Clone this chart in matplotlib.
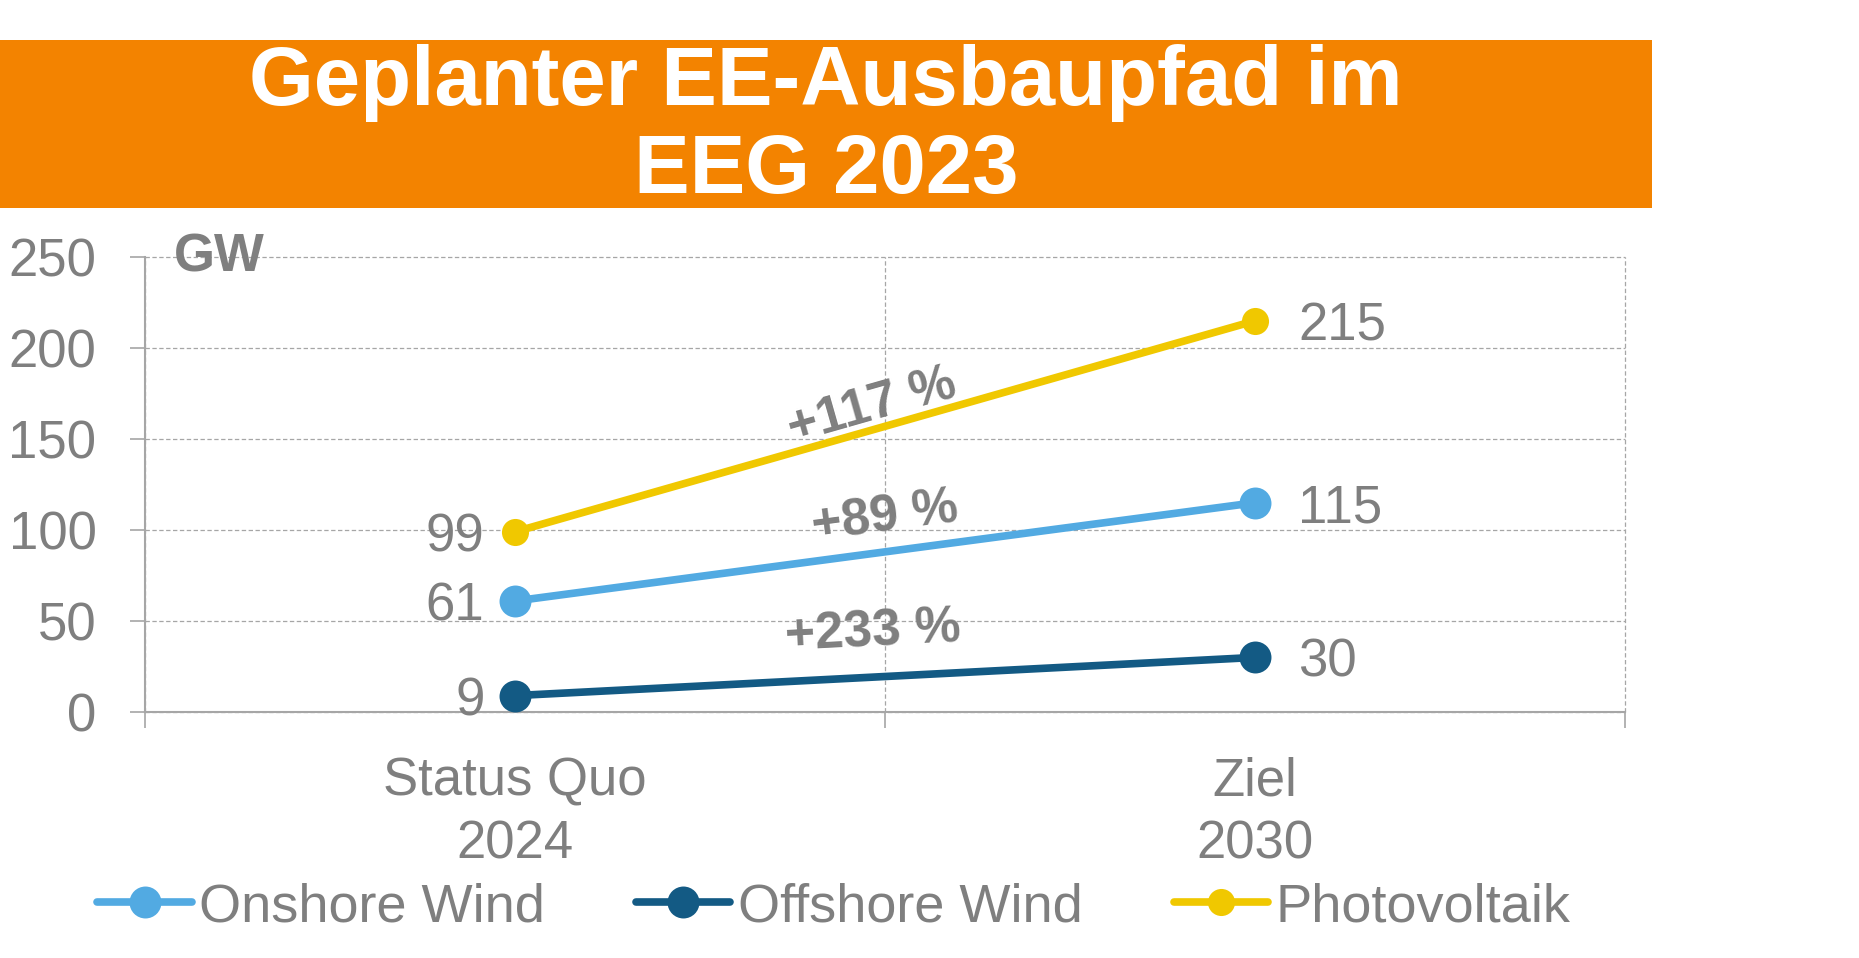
import numpy as np
import matplotlib
matplotlib.use("Agg")
import matplotlib.pyplot as plt
from matplotlib.patches import Rectangle

plt.rcParams['font.family'] = ['Liberation Sans', 'DejaVu Sans']

# data
categories = ['Status Quo\n2024', 'Ziel\n2030']
series_names = ['Onshore Wind', 'Offshore Wind', 'Photovoltaik']
onshore = [61, 115]
offshore = [9, 30]
photovoltaik = [99, 215]
growth_labels = ['+89 %', '+233 %', '+117 %']
y_ticks = [0, 50, 100, 150, 200, 250]

title = 'Geplanter EE-Ausbaupfad im\nEEG 2023'
unit = 'GW'

# styles
gray = '#7F7F7F'
axis_gray = '#A6A6A6'
orange = '#F38300'
colors = ['#52AAE2', '#135A84', '#F0C800']
marker_sizes = [23, 23, 19.5]
# where the growth labels sit (x in category units, y in GW)
growth_pos = [(0.50, 107), (0.484, 43.5), (0.482, 167.5)]

fig = plt.figure(figsize=(18.59, 9.58), dpi=100)
ax = fig.add_axes([0.078, 0.2568, 0.7963, 0.4749])

# orange title banner
fig.patches.append(Rectangle((0, 0.7829), 0.8887, 0.1753, transform=fig.transFigure,
                             facecolor=orange, edgecolor='none', zorder=0))
fig.text(0.4443, 0.7985, title, color='white', fontsize=60, fontweight='bold',
         ha='center', va='baseline', linespacing=1.16, multialignment='center')

x = np.arange(len(categories))
all_series = [onshore, offshore, photovoltaik]
for vals, name, col, ms in zip(all_series, series_names, colors, marker_sizes):
    ax.plot(x, vals, color=col, lw=5.5, marker='o', ms=ms, mew=0,
            solid_capstyle='round', label=name, zorder=3)
    ax.annotate(str(vals[0]), (x[0], vals[0]), xytext=(-22, 0), textcoords='offset points',
                ha='right', va='center_baseline', fontsize=38, color=gray)
    ax.annotate(str(vals[1]), (x[1], vals[1]), xytext=(31, 0), textcoords='offset points',
                ha='left', va='center_baseline', fontsize=38, color=gray)

for vals, lab, pos in zip(all_series, growth_labels, growth_pos):
    ang = np.degrees(np.arctan2(vals[1] - vals[0], x[1] - x[0]))
    ax.text(pos[0], pos[1], lab, fontsize=37, fontweight='bold', color=gray,
            ha='center', va='center', rotation=ang, rotation_mode='anchor',
            transform_rotates_text=True, zorder=4)

ax.set_xlim(-0.5, 1.5)
ax.set_ylim(0, 250)
ax.set_yticks(y_ticks)
ax.set_xticks(x)
ax.set_xticklabels(categories, linespacing=1.34)
ax.set_xticks([-0.5, 0.5, 1.5], minor=True)

ax.tick_params(axis='y', labelsize=38, labelcolor=gray, color=axis_gray,
               length=11, width=1.2, pad=24)
ax.tick_params(axis='x', which='major', labelsize=38, labelcolor=gray, length=0, pad=32)
ax.tick_params(axis='x', which='minor', color=axis_gray, length=11.5, width=1.2)

ax.grid(axis='y', color=axis_gray, ls=(0, (3.5, 2)), lw=0.9)
ax.grid(axis='x', which='minor', color=axis_gray, ls=(0, (3.5, 2)), lw=0.9)
ax.set_axisbelow(True)
# grid lines on the plot edge should show fully
for t in ax.xaxis.get_minor_ticks() + ax.yaxis.get_major_ticks():
    t.gridline.set_clip_on(False)
for side in ['top', 'right']:
    ax.spines[side].set_visible(False)
for side in ['left', 'bottom']:
    ax.spines[side].set_color(axis_gray)
    ax.spines[side].set_linewidth(1.5)

ax.text(0.0196, 0.969, unit, transform=ax.transAxes, fontsize=38, fontweight='bold',
        color=gray, ha='left', va='baseline')

leg = fig.legend(loc='center', bbox_to_anchor=(0.4486, 0.0532), ncol=3, frameon=False,
                 fontsize=39, handlelength=1.74, handletextpad=0.14, columnspacing=1.68,
                 numpoints=1, borderaxespad=0)
for t in leg.get_texts():
    t.set_color(gray)

fig.savefig('out.png', dpi=100)
